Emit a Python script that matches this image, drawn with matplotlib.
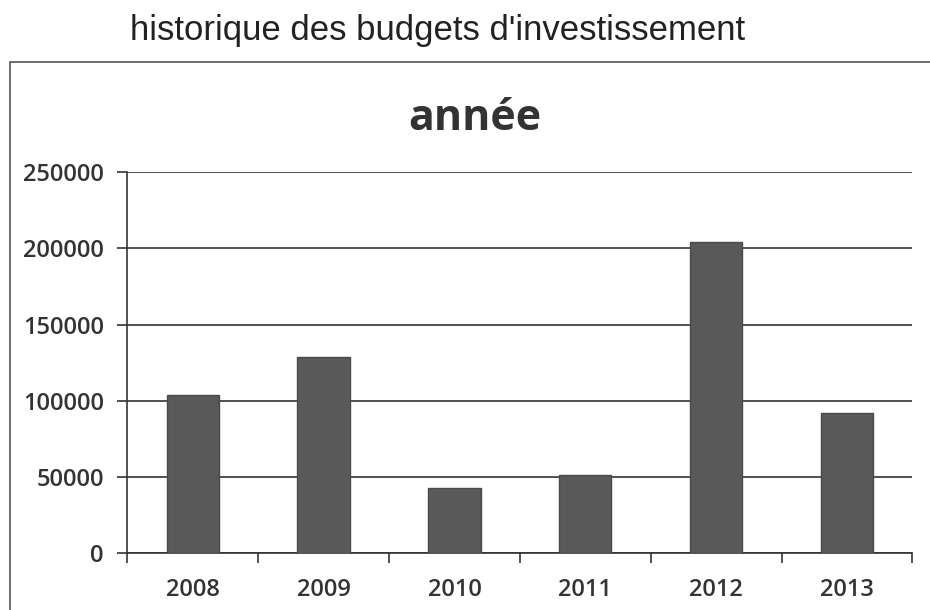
import matplotlib.pyplot as plt
from matplotlib.patches import Rectangle
import numpy as np

# données
annees = ['2008', '2009', '2010', '2011', '2012', '2013']
budgets = [104000, 129000, 43000, 51000, 204000, 92000]
graduations = [0, 50000, 100000, 150000, 200000, 250000]

fig = plt.figure(figsize=(9.3, 6.1), dpi=100)
fig.patch.set_facecolor('white')

# titre au-dessus du cadre
fig.text(0.47, 0.95, "historique des budgets d'investissement", ha='center', va='center',
         fontsize=25, family='Liberation Sans', color='#222222')

# cadre du graphique
fig.patches.append(Rectangle((0.011, -0.05), 1.2, 0.948, transform=fig.transFigure,
                             fill=False, edgecolor='#555555', linewidth=1.2))

# titre du graphique
fig.text(0.511, 0.805, 'année', ha='center', va='center', fontsize=31,
         fontweight='bold', family='Open Sans', color='#333333')

ax = fig.add_axes([0.137, 0.093, 0.844, 0.625])
x = np.arange(len(annees))
ax.bar(x, budgets, width=0.4, color='#595959', edgecolor='#4a4a4a', zorder=3)

ax.set_xlim(-0.5, len(annees) - 0.5)
ax.set_ylim(0, 250000)
ax.set_yticks(graduations)
ax.set_yticklabels([str(v) for v in graduations])
ax.yaxis.grid(True, color='#333333', linewidth=1.2, zorder=0)

ax.set_xticks(np.arange(len(annees) + 1) - 0.5)
ax.set_xticklabels([])
ax.set_xticks(x, minor=True)
ax.set_xticklabels(annees, minor=True)
ax.tick_params(axis='x', which='major', length=7, width=1.2, color='#333333')
ax.tick_params(axis='x', which='minor', length=0, pad=18, labelsize=17, labelcolor='#333333')
ax.tick_params(axis='y', length=7, width=1.2, color='#333333', labelsize=17,
               labelcolor='#333333', pad=10)
for lab in ax.get_xticklabels(minor=True) + ax.get_yticklabels():
    lab.set_family('Open Sans')
    lab.set_fontweight('semibold')

for side in ['top', 'right']:
    ax.spines[side].set_visible(False)
ax.spines['left'].set_color('#333333')
ax.spines['bottom'].set_color('#333333')
ax.spines['left'].set_linewidth(1.2)
ax.spines['bottom'].set_linewidth(1.2)

fig.savefig('out.png', dpi=100)
